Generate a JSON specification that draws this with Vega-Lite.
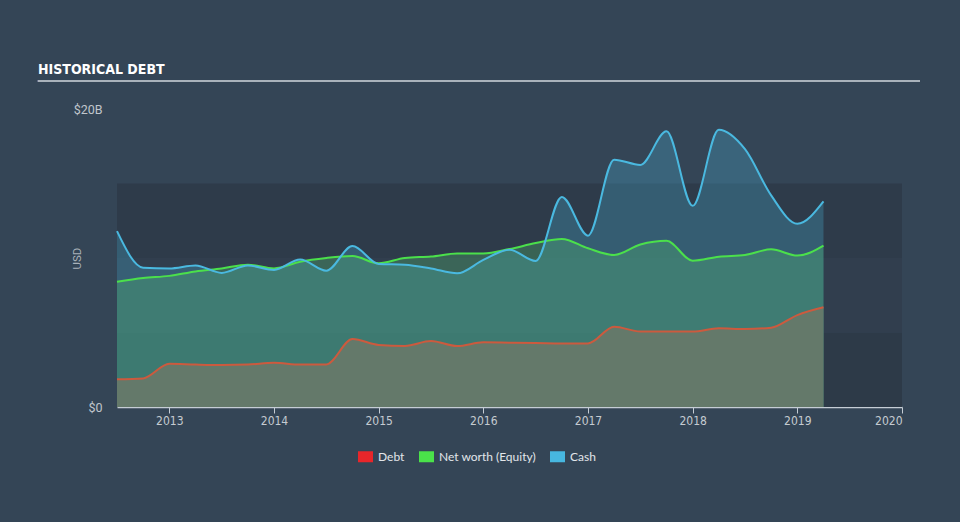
{
  "$schema": "https://vega.github.io/schema/vega-lite/v6.json",
  "width": 785,
  "height": 298,
  "autosize": {"type": "none"},
  "padding": {"left": 117, "top": 109, "right": 58, "bottom": 115},
  "background": "#344556",
  "title": {
    "text": "HISTORICAL DEBT",
    "anchor": "start",
    "frame": "group",
    "dx": -79,
    "offset": -8,
    "baseline": "alphabetic",
    "font": "Liberation Sans Narrow, DejaVu Sans Condensed, Roboto",
    "fontWeight": "bold",
    "fontSize": 14,
    "color": "#ffffff"
  },
  "config": {
    "view": {"stroke": null},
    "axis": {"grid": false},
    "legend": {"labelFont": "Lato", "labelFontSize": 12, "labelColor": "#e2e6ea"}
  },
  "datasets": {
    "fin": [
      {"t": 2012.5, "debt": 1.86, "equity": 8.4, "cash": 11.8},
      {"t": 2012.75, "debt": 1.92, "equity": 8.65, "cash": 9.35},
      {"t": 2013.0, "debt": 2.9, "equity": 8.8, "cash": 9.3},
      {"t": 2013.25, "debt": 2.85, "equity": 9.1, "cash": 9.5},
      {"t": 2013.5, "debt": 2.82, "equity": 9.3, "cash": 9.0},
      {"t": 2013.75, "debt": 2.85, "equity": 9.55, "cash": 9.5},
      {"t": 2014.0, "debt": 2.97, "equity": 9.3, "cash": 9.2},
      {"t": 2014.25, "debt": 2.85, "equity": 9.75, "cash": 9.9},
      {"t": 2014.5, "debt": 2.86, "equity": 10.0, "cash": 9.15},
      {"t": 2014.75, "debt": 4.56, "equity": 10.13, "cash": 10.8},
      {"t": 2015.0, "debt": 4.16, "equity": 9.64, "cash": 9.6},
      {"t": 2015.25, "debt": 4.1, "equity": 10.0, "cash": 9.55},
      {"t": 2015.5, "debt": 4.43, "equity": 10.1, "cash": 9.3},
      {"t": 2015.75, "debt": 4.09, "equity": 10.3, "cash": 8.97},
      {"t": 2016.0, "debt": 4.34, "equity": 10.3, "cash": 9.87},
      {"t": 2016.25, "debt": 4.32, "equity": 10.6, "cash": 10.55},
      {"t": 2016.5, "debt": 4.3, "equity": 11.0, "cash": 9.8},
      {"t": 2016.75, "debt": 4.27, "equity": 11.28, "cash": 14.1},
      {"t": 2017.0, "debt": 4.27, "equity": 10.65, "cash": 11.5},
      {"t": 2017.25, "debt": 5.39, "equity": 10.2, "cash": 16.6},
      {"t": 2017.5, "debt": 5.06, "equity": 10.9, "cash": 16.25},
      {"t": 2017.75, "debt": 5.06, "equity": 11.15, "cash": 18.5},
      {"t": 2018.0, "debt": 5.06, "equity": 9.82, "cash": 13.5},
      {"t": 2018.25, "debt": 5.28, "equity": 10.09, "cash": 18.6},
      {"t": 2018.5, "debt": 5.23, "equity": 10.2, "cash": 17.3},
      {"t": 2018.75, "debt": 5.32, "equity": 10.58, "cash": 14.2},
      {"t": 2019.0, "debt": 6.17, "equity": 10.16, "cash": 12.3},
      {"t": 2019.25, "debt": 6.69, "equity": 10.83, "cash": 13.8}
    ],
    "bands": [
      {"lo": 0, "hi": 5, "band": "b1"},
      {"lo": 5, "hi": 10, "band": "b2"},
      {"lo": 10, "hi": 15, "band": "b3"}
    ]
  },
  "data": {"name": "fin"},
  "layer": [
    {
      "data": {"name": "bands"},
      "mark": {"type": "rect"},
      "encoding": {
        "y": {"field": "lo", "type": "quantitative", "scale": {"domain": [0, 20], "nice": false}},
        "y2": {"field": "hi"},
        "fill": {"field": "band", "type": "nominal", "legend": null,
          "scale": {"domain": ["b1", "b2", "b3"], "range": ["#2d3a48", "#313e4e", "#2e3b4a"]}}
      }
    },
    {
      "mark": {"type": "area", "interpolate": "monotone", "color": "#4cc3ea", "opacity": 0.25},
      "encoding": {
        "x": {"field": "t", "type": "quantitative",
          "scale": {"domain": [2012.5, 2020], "nice": false, "zero": false},
          "axis": {
            "values": [2013, 2014, 2015, 2016, 2017, 2018, 2019, 2020],
            "format": "d",
            "title": null,
            "domainColor": "#c5cdd5",
            "domainWidth": 1.5,
            "tickColor": "#c5cdd5",
            "tickSize": 6,
            "tickWidth": 1,
            "labelColor": "#c5cbd1",
            "labelFont": "Liberation Sans Narrow, DejaVu Sans Condensed, Roboto",
            "labelFontSize": 12,
            "labelPadding": 2
          }},
        "y": {"field": "cash", "type": "quantitative",
          "scale": {"domain": [0, 20], "nice": false},
          "axis": {
            "values": [0, 20],
            "labelExpr": "datum.value == 0 ? '$0' : '$20B'",
            "domain": false,
            "ticks": false,
            "labelPadding": 15,
            "labelColor": "#c0c6cc",
            "labelFont": "Roboto",
            "labelFontSize": 12.5,
            "title": "USD",
            "titleColor": "#aab2ba",
            "titleFont": "Roboto",
            "titleFontSize": 11.5,
            "titleFontWeight": "normal",
            "titleX": -35,
            "titleY": 149,
            "titleAlign": "center"
          }}
      }
    },
    {
      "mark": {"type": "area", "interpolate": "monotone", "color": "#53bf72", "opacity": 0.3},
      "encoding": {
        "x": {"field": "t", "type": "quantitative"},
        "y": {"field": "equity", "type": "quantitative"}
      }
    },
    {
      "mark": {"type": "area", "interpolate": "monotone", "color": "#64796a", "opacity": 1},
      "encoding": {
        "x": {"field": "t", "type": "quantitative"},
        "y": {"field": "debt", "type": "quantitative"}
      }
    },
    {
      "mark": {"type": "line", "interpolate": "monotone", "color": "#cc5a3e", "strokeWidth": 2},
      "encoding": {
        "x": {"field": "t", "type": "quantitative"},
        "y": {"field": "debt", "type": "quantitative"}
      }
    },
    {
      "mark": {"type": "line", "interpolate": "monotone", "color": "#4be04b", "strokeWidth": 2},
      "encoding": {
        "x": {"field": "t", "type": "quantitative"},
        "y": {"field": "equity", "type": "quantitative"}
      }
    },
    {
      "mark": {"type": "line", "interpolate": "monotone", "color": "#4ab9e0", "strokeWidth": 2},
      "encoding": {
        "x": {"field": "t", "type": "quantitative"},
        "y": {"field": "cash", "type": "quantitative"}
      }
    },
    {
      "transform": [{"fold": ["debt", "equity", "cash"], "as": ["series", "value"]}],
      "mark": {"type": "point", "filled": true, "opacity": 0},
      "encoding": {
        "x": {"field": "t", "type": "quantitative"},
        "y": {"field": "value", "type": "quantitative"},
        "color": {"field": "series", "type": "nominal",
          "scale": {"domain": ["debt", "equity", "cash"], "range": ["#e8262a", "#4ae24a", "#47b7e0"]},
          "legend": {
            "title": null,
            "orient": "none",
            "direction": "horizontal",
            "legendX": 241,
            "legendY": 340,
            "symbolType": "M-1,-0.733H1V0.733H-1Z",
            "symbolSize": 225,
            "symbolOpacity": 1,
            "symbolStrokeWidth": 0,
            "labelOffset": 5,
            "columnPadding": 14,
            "labelExpr": "datum.value == 'debt' ? 'Debt' : datum.value == 'equity' ? 'Net worth (Equity)' : 'Cash'"
          }}
      }
    },
    {
      "mark": {"type": "rule", "color": "#a9b2bb", "strokeWidth": 2},
      "encoding": {
        "x": {"datum": 2011.745},
        "x2": {"datum": 2020.172},
        "y": {"datum": 21.88}
      }
    }
  ]
}
